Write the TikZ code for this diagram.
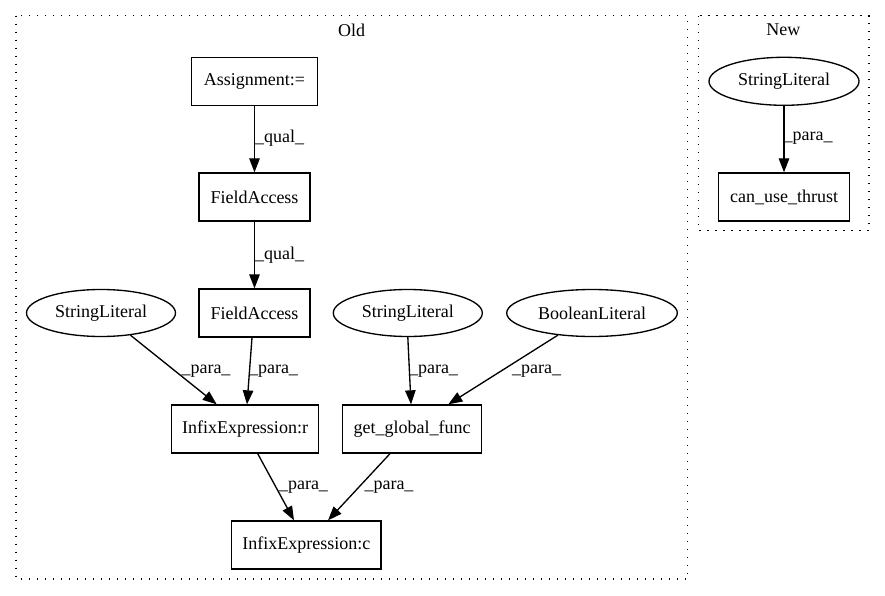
\documentclass[tikz,border=0pt]{standalone}
\usepackage{fontspec}
\setmainfont{Liberation Serif}
\usetikzlibrary{arrows.meta,shapes.geometric}
\begin{document}
\begin{tikzpicture}[x=1pt,y=-1pt,
  every node/.style={font=\fontsize{18}{21}\selectfont},
  box/.style={draw,line width=1.33pt,rectangle,minimum height=48pt,inner sep=0pt},
  oval/.style={draw,line width=1.33pt,ellipse,minimum height=47pt,inner sep=0pt},
  conn/.style={draw,line width=1.33pt,-{Triangle[length=14pt,width=10.5pt]}},
  cluster/.style={draw,line width=1.33pt,dash pattern=on 1.33pt off 6.67pt},
  lbl/.style={inner sep=0pt}]
\useasboundingbox (0,0) rectangle (885,596);
% clusters
\draw[cluster] (16,15.7) rectangle (687.7,579);
\draw[cluster] (698.3,15.7) rectangle (869,230.7);
\node[lbl] (told) at (351.7,30) {Old};
\node[lbl] (tnew) at (783.3,30) {New};
% nodes
\node[box,minimum width=125.6pt] (as) at (254.5,81.3) {Assignment:=};
\node[box,minimum width=111pt] (fa1) at (254.5,197) {FieldAccess};
\node[box,minimum width=111pt] (fa2) at (254.5,313) {FieldAccess};
\node[oval,minimum width=149pt] (sl1) at (101,313) {StringLiteral};
\node[oval,minimum width=149pt] (sl2) at (407.8,313) {StringLiteral};
\node[oval,minimum width=170.6pt] (bl) at (592,313) {BooleanLiteral};
\node[box,minimum width=146.7pt] (ir) at (245,429) {InfixExpression:r};
\node[box,minimum width=138.6pt] (gg) at (412,429) {get\_global\_func};
\node[box,minimum width=149.3pt] (ic) at (306.3,545) {InfixExpression:c};
\node[oval,minimum width=150pt,minimum height=48pt] (sl3) at (784,81.3) {StringLiteral};
\node[box,minimum width=131pt] (cut) at (784,197) {can\_use\_thrust};
% edges
\draw[conn] (as) -- (fa1);
\draw[conn] (fa1) -- (fa2);
\draw[conn] (sl1.-37.6) -- ([xshift=-28.3pt]ir.north);
\draw[conn] ([xshift=-2.5pt]fa2.south) -- ([xshift=2pt]ir.north);
\draw[conn] (sl2.south) -- ([xshift=-1pt]gg.north);
\draw[conn] (bl.-147) -- ([xshift=36.3pt]gg.north);
\draw[conn] ([xshift=12.7pt]ir.south) -- ([xshift=-12.3pt]ic.north);
\draw[conn] ([xshift=-22pt]gg.south) -- ([xshift=21.7pt]ic.north);
\draw[conn] (sl3) -- (cut);
% edge labels
\node[lbl] (l1) at (279.5,138) {\_qual\_};
\node[lbl] (l2) at (279.5,255) {\_qual\_};
\node[lbl] (l3) at (206,371) {\_para\_};
\node[lbl] (l4) at (273.5,371) {\_para\_};
\node[lbl] (l5) at (433.5,371) {\_para\_};
\node[lbl] (l6) at (536.7,371) {\_para\_};
\node[lbl] (l7) at (303.5,487) {\_para\_};
\node[lbl] (l8) at (389,487) {\_para\_};
\node[lbl] (l9) at (808,138) {\_para\_};
\end{tikzpicture}
\end{document}
